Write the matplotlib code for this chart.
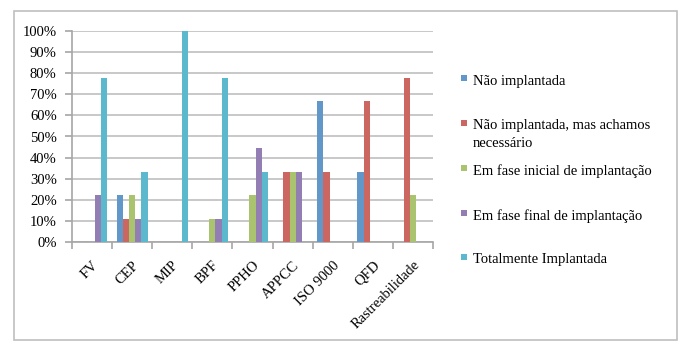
import matplotlib
matplotlib.use("Agg")
import matplotlib.pyplot as plt
from matplotlib.patches import Rectangle
from matplotlib.ticker import FuncFormatter, MultipleLocator, FixedLocator
import numpy as np

categories = ["FV", "CEP", "MIP", "BPF", "PPHO", "APPCC", "ISO 9000", "QFD", "Rastreabilidade"]
series_names = ["Não implantada", "Não implantada, mas achamos\nnecessário",
                "Em fase inicial de implantação", "Em fase final de implantação",
                "Totalmente Implantada"]
nao_implantada = [0, 22.2, 0, 0, 0, 0, 66.7, 33.3, 0]
nao_impl_necessario = [0, 11.1, 0, 0, 0, 33.3, 33.3, 66.7, 77.8]
fase_inicial = [0, 22.2, 0, 11.1, 22.2, 33.3, 0, 0, 22.2]
fase_final = [22.2, 11.1, 0, 11.1, 44.4, 33.3, 0, 0, 0]
totalmente = [77.8, 33.3, 100, 77.8, 33.3, 0, 0, 0, 0]
series_values = [nao_implantada, nao_impl_necessario, fase_inicial, fase_final, totalmente]
colors = ["#6197C9", "#CC6660", "#AAC36F", "#927EB2", "#5CB8CC"]

plt.rcParams['font.family'] = ['Liberation Serif', 'DejaVu Serif']
FS = 10.5
W, H = 686, 347
fig = plt.figure(figsize=(W / 100, H / 100), dpi=100)

# outer border
fig.add_artist(Rectangle((14 / W, 1 - 340 / H), (677 - 14) / W, (340 - 11) / H,
                         transform=fig.transFigure, fill=False, edgecolor="#BFBFBF", lw=1.2))

ax = fig.add_axes([72 / W, 1 - 242 / H, (433 - 72) / W, (242 - 31) / H])
n = len(categories)
k = len(series_values)
group = 1 / 1.3
bw = group / k
x = np.arange(n) + 0.5
for i, (vals, c) in enumerate(zip(series_values, colors)):
    offs = -group / 2 + bw * (i + 0.5)
    ax.bar(x + offs, np.array(vals) / 100, width=bw, color=c, zorder=3, linewidth=0)

ax.set_xlim(0, n)
ax.set_ylim(0, 1)
ax.yaxis.set_major_locator(MultipleLocator(0.1))
ax.yaxis.set_major_formatter(FuncFormatter(lambda v, p: f"{v * 100:.0f}%"))
ax.grid(axis='y', color="#BFBFBF", lw=1.2, zorder=0)
for s in ['top', 'right']:
    ax.spines[s].set_visible(False)
for s in ['left', 'bottom']:
    ax.spines[s].set_color("#A6A6A6")
    ax.spines[s].set_linewidth(1.2)
ax.tick_params(axis='y', direction='out', length=5, color="#A6A6A6", width=1.2,
               labelsize=FS, pad=6)
ax.xaxis.set_major_locator(FixedLocator(x))
ax.set_xticklabels(categories, rotation=45, ha='right', rotation_mode='anchor', fontsize=FS)
ax.tick_params(axis='x', which='major', length=0, pad=12)
ax.xaxis.set_minor_locator(FixedLocator(np.arange(n + 1)))
ax.tick_params(axis='x', which='minor', direction='out', length=5, color="#A6A6A6", width=1.2)

# legend
ys = [81, 126, 171, 216, 260]
for name, c, y in zip(series_names, colors, ys):
    fig.add_artist(Rectangle((461 / W, 1 - (y + 0) / H), 6 / W, 6 / H,
                             transform=fig.transFigure, color=c, lw=0))
    for j, line in enumerate(name.split("\n")):
        fig.text(473 / W, 1 - (y + 18 * j) / H, line, fontsize=FS, va='center', ha='left')

fig.savefig("out.png", dpi=100)
